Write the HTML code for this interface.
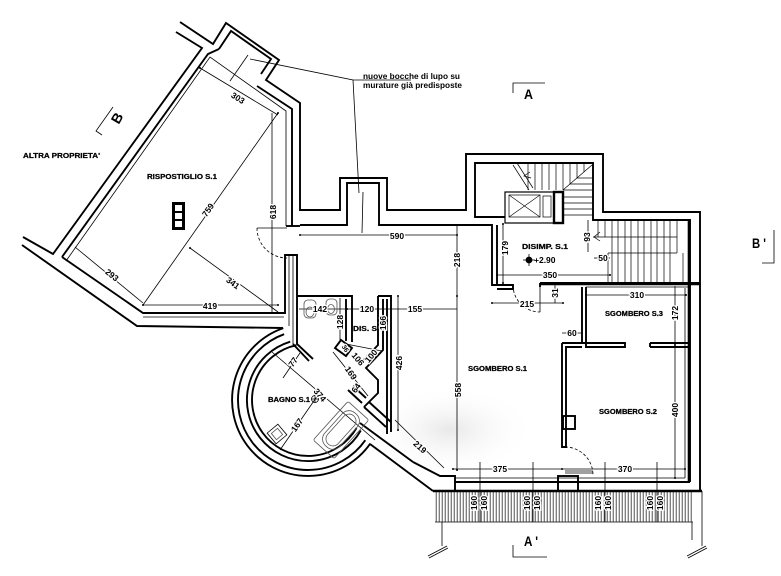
<!DOCTYPE html>
<html><head><meta charset="utf-8">
<style>
html,body{margin:0;padding:0;background:#fff;}
svg{display:block;}
text{font-family:"Liberation Sans",Arial,sans-serif;}
.d{font-size:8.5px;font-weight:bold;fill:#000;stroke:#fff;stroke-width:2.5px;paint-order:stroke;}
.n{font-size:7px;font-weight:bold;fill:#000;stroke:#000;stroke-width:0.25px;}
.big{font-size:14px;font-weight:bold;fill:#000;}
</style></head><body>
<svg xmlns="http://www.w3.org/2000/svg" width="781" height="576" viewBox="0 0 781 576">
<defs>
<pattern id="h" width="3" height="40" patternUnits="userSpaceOnUse">
<line x1="1.2" y1="0" x2="1.2" y2="40" stroke="#333" stroke-width="0.85"/>
</pattern>
<radialGradient id="wm" cx="0.5" cy="0.5" r="0.5">
<stop offset="0" stop-color="#e8e8e8"/>
<stop offset="1" stop-color="#ffffff" stop-opacity="0"/>
</radialGradient>
</defs>
<rect width="781" height="576" fill="#fff"/>
<ellipse cx="450" cy="430" rx="85" ry="45" fill="url(#wm)"/>

<!-- ===== thin helper lines (dims, leaders) ===== -->
<g fill="none" stroke="#000" stroke-width="0.8">
  <polyline points="250,59 353,80 359,193"/>
  <line x1="353" y1="80" x2="411" y2="80"/>
  <line x1="363" y1="192" x2="362" y2="233"/>
  <line x1="230" y1="81" x2="248" y2="55"/>
  <polyline points="513,93 513,83 545,83"/>
  <polyline points="762,263 774,263 774,230"/>
  <polyline points="513,545 513,557 547,557"/>
  <polyline points="102,135 96,131 113,107"/>
  <line x1="200" y1="68" x2="278" y2="115"/>
  <line x1="143" y1="305" x2="278" y2="113"/>
  <line x1="272" y1="113" x2="272" y2="313"/>
  <line x1="75" y1="247" x2="143" y2="303"/>
  <line x1="190" y1="248" x2="278" y2="312"/>
  <line x1="143" y1="305" x2="278" y2="305"/>
  <line x1="300" y1="235" x2="457" y2="235"/>
  <line x1="457" y1="224" x2="457" y2="470"/>
  <line x1="299" y1="309" x2="457" y2="309"/>
  <line x1="398" y1="296" x2="398" y2="430"/>
  <line x1="340" y1="298" x2="340" y2="340"/>
  <line x1="395" y1="420" x2="444" y2="468"/>
  <line x1="503" y1="224" x2="503" y2="283"/>
  <line x1="497" y1="275" x2="610" y2="275"/>
  <line x1="588" y1="220" x2="588" y2="252"/>
  <line x1="594" y1="258" x2="610" y2="258"/>
  <line x1="492" y1="303" x2="563" y2="303"/>
  <line x1="555" y1="285" x2="555" y2="303"/>
  <line x1="562" y1="333" x2="582" y2="333"/>
  <line x1="586" y1="295" x2="686" y2="295"/>
  <line x1="675" y1="286" x2="675" y2="478"/>
  <line x1="453" y1="469" x2="685" y2="469"/>
  <line x1="480" y1="462" x2="480" y2="522"/>
  <line x1="533" y1="462" x2="533" y2="522"/>
  <line x1="605" y1="462" x2="605" y2="522"/>
  <line x1="657" y1="462" x2="657" y2="522"/>
  <line x1="272" y1="352" x2="375" y2="440"/>
  <line x1="283" y1="378" x2="300" y2="353"/>
  <line x1="280" y1="450" x2="318" y2="395"/>
  <line x1="333" y1="352" x2="368" y2="396"/>
  <line x1="346" y1="344" x2="382" y2="351"/>
  <line x1="442" y1="522" x2="442" y2="546"/>
  <line x1="702" y1="491" x2="702" y2="546"/>
  <line x1="692" y1="522" x2="692" y2="540"/>
  <line x1="428" y1="556" x2="447" y2="546"/>
  <line x1="429" y1="558" x2="448" y2="548"/>
  <line x1="687" y1="556" x2="706" y2="546"/>
  <line x1="688" y1="558" x2="707" y2="548"/>
  <path d="M257,228 A30,30 0 0,0 287,258" stroke-dasharray="3,2"/>
  <line x1="257" y1="228" x2="287" y2="228"/>
  <path d="M513,285 A27,27 0 0,0 540,312" stroke-dasharray="3,2"/>
  <line x1="540" y1="285" x2="540" y2="312"/>
  <path d="M565,447 A28,28 0 0,1 593,475" stroke-dasharray="3,2"/>
  <line x1="565" y1="471" x2="593" y2="471"/>
  <line x1="565" y1="473" x2="593" y2="473"/>
</g>

<g fill="#000">
  <circle cx="300" cy="235" r="1"/><circle cx="457" cy="235" r="1"/>
  <circle cx="143" cy="305" r="1"/><circle cx="278" cy="305" r="1"/>
  <circle cx="278" cy="113" r="1"/><circle cx="272" cy="313" r="1"/>
  <circle cx="190" cy="248" r="1"/><circle cx="200" cy="68" r="1"/>
  <circle cx="457" cy="296" r="1"/><circle cx="457" cy="470" r="1"/>
  <circle cx="387" cy="309" r="1"/><circle cx="347" cy="309" r="1"/>
  <circle cx="503" cy="224" r="1"/><circle cx="503" cy="283" r="1"/>
  <circle cx="497" cy="275" r="1"/><circle cx="610" cy="275" r="1"/>
  <circle cx="492" cy="303" r="1"/><circle cx="563" cy="303" r="1"/>
  <circle cx="586" cy="295" r="1"/><circle cx="686" cy="295" r="1"/>
  <circle cx="675" cy="345" r="1"/><circle cx="675" cy="478" r="1"/>
  <circle cx="453" cy="469" r="1"/><circle cx="562" cy="469" r="1"/><circle cx="685" cy="469" r="1"/>
  <circle cx="398" cy="296" r="1"/><circle cx="398" cy="430" r="1"/>
</g>

<rect x="435" y="491" width="258" height="31" fill="url(#h)"/>
<line x1="435" y1="522" x2="693" y2="522" stroke="#000" stroke-width="0.8"/>

<g fill="none" stroke="#000" stroke-width="1.9" stroke-linejoin="miter">
  <polyline points="180,22 213,44 226,23 279,60 266,80 300,103 300,210 340,210 340,178 387,178 387,210 466,210 466,154 603,154 603,212 700,212 700,491"/>
  <polyline points="219,49 231,31 271,59 261,74"/>
  <polyline points="176,32 202,48 53,254 23,237"/>
  <polyline points="62,257 208,54 219,49"/>
  <polyline points="257,86 292,109 292,226"/>
  <polyline points="62,257 143,313 285,313 285,255 297,255 297,344 313,359"/>
  <polyline points="22,245 137,326 283,328"/>
  <line x1="286" y1="226" x2="300" y2="226"/>
  <line x1="293" y1="344" x2="309" y2="361"/>
  <polyline points="300,225 347,225 347,183 379,183 379,225 492,225 492,285 513,285 513,289 497,289"/>
  <line x1="497" y1="225" x2="497" y2="285"/>
  <polyline points="505,217 475,217 475,163 593,163 593,220 690,220 690,482"/>
  <polyline points="540,283 700,283"/>
  <line x1="540" y1="283" x2="540" y2="287"/>
  <polyline points="582,287 582,343 625,343 625,347 586,347 586,287"/>
  <polyline points="650,343 689,343"/>
  <polyline points="650,347 650,343"/>
  <line x1="650" y1="347" x2="689" y2="347"/>
  <polyline points="562,343 582,343"/>
  <polyline points="562,343 562,447 566,447 566,347 582,347"/>
  <rect x="563" y="416" width="12" height="13"/>
  <rect x="558" y="476" width="20" height="15"/>
  <line x1="433" y1="491" x2="702" y2="491"/>
  <line x1="455" y1="482" x2="690" y2="482"/>
  <polyline points="413,462 440,476 455,476 455,491"/>
  <line x1="370" y1="444" x2="433" y2="491"/>
  <line x1="360" y1="423" x2="413" y2="462"/>
  <polyline points="297,296 352,296 352,342"/>
  <line x1="346" y1="299" x2="346" y2="341"/>
  <polygon points="341,340 352,348 346,356 335,348"/>
  <polyline points="378,296 391,296 391,432"/>
  <line x1="387" y1="299" x2="387" y2="434"/>
  <polyline points="378,296 378,345 361,363"/>
  <polyline points="383,299 383,350 366,368 378,380 378,393 364,407"/>
  <polyline points="348,390 362,403"/>
  <line x1="353" y1="386" x2="366" y2="398"/>
  <line x1="364" y1="407" x2="386" y2="427"/>
  <line x1="369" y1="402" x2="391" y2="422"/>
  <path d="M283.3,328.1 A76,76 0 1,0 370.3,443.6"/>
  <path d="M284.1,334.2 A70,70 0 1,0 365.3,440.2"/>
  <path d="M290.2,341.7 A61,61 0 1,0 360.8,430.5"/>
  <path d="M296.4,345.2 A56,56 0 1,0 356.5,428"/>
</g>
<g fill="none" stroke="#000" stroke-width="2.6">
  <line x1="433" y1="491" x2="702" y2="491"/>
  <line x1="689" y1="220" x2="689" y2="482"/>
  <line x1="540" y1="284" x2="700" y2="284"/>
</g>
<g fill="none" stroke="#000" stroke-width="0.8">
  <polyline points="66,261 210,57 286,111 286,226"/>
  <line x1="143" y1="317" x2="284" y2="317"/>
  <line x1="289" y1="256" x2="289" y2="326"/>
  <line x1="293" y1="256" x2="293" y2="344"/>
  <line x1="685" y1="288" x2="685" y2="478"/>
  <line x1="586" y1="287" x2="688" y2="287"/>
  <line x1="455" y1="478" x2="685" y2="478"/>
</g>

<g fill="#fff" stroke="#000">
  <rect x="505" y="192" width="49" height="31" stroke-width="1.2"/>
  <rect x="509" y="195" width="31" height="22" stroke-width="0.7" fill="none"/>
  <line x1="509" y1="195" x2="540" y2="217" stroke-width="0.6"/>
  <line x1="540" y1="195" x2="509" y2="217" stroke-width="0.6"/>
  <rect x="543" y="196" width="8" height="21" stroke-width="0.7" fill="none"/>
  <rect x="554" y="192" width="9" height="31" stroke-width="2.4"/>
</g>

<g fill="none" stroke="#000" stroke-width="0.7">
  <line x1="528" y1="163" x2="528" y2="190"/><line x1="535" y1="163" x2="535" y2="190"/>
  <line x1="542" y1="163" x2="542" y2="190"/><line x1="549" y1="163" x2="549" y2="190"/>
  <line x1="556" y1="163" x2="556" y2="190"/><line x1="563" y1="163" x2="563" y2="190"/>
  <line x1="570" y1="163" x2="570" y2="184"/><line x1="577" y1="163" x2="577" y2="178"/>
  <line x1="584" y1="163" x2="584" y2="172"/>
  <line x1="563" y1="190" x2="592" y2="165"/>
  <line x1="563" y1="197" x2="593" y2="197"/><line x1="563" y1="203" x2="593" y2="203"/>
  <line x1="563" y1="209" x2="593" y2="209"/><line x1="563" y1="215" x2="593" y2="215"/>
  <line x1="570" y1="184" x2="593" y2="184"/><line x1="577" y1="178" x2="593" y2="178"/>
  <line x1="563" y1="190" x2="593" y2="190"/>
  <line x1="513" y1="165" x2="529" y2="190"/><line x1="517" y1="163" x2="533" y2="188"/>
  <polyline points="530,172 524,176 531,178"/>
  <line x1="598" y1="220" x2="598" y2="237"/><line x1="605" y1="220" x2="605" y2="237"/>
  <line x1="612" y1="220" x2="612" y2="283"/><line x1="618" y1="220" x2="618" y2="283"/>
  <line x1="625" y1="220" x2="625" y2="283"/><line x1="631" y1="220" x2="631" y2="283"/>
  <line x1="638" y1="220" x2="638" y2="283"/><line x1="644" y1="220" x2="644" y2="283"/>
  <line x1="651" y1="220" x2="651" y2="283"/><line x1="657" y1="220" x2="657" y2="283"/>
  <line x1="664" y1="220" x2="664" y2="283"/><line x1="670" y1="220" x2="670" y2="283"/>
  <line x1="677" y1="220" x2="677" y2="253"/><line x1="683" y1="253" x2="683" y2="283"/>
  <line x1="593" y1="237" x2="677" y2="237"/>
  <line x1="608" y1="253" x2="677" y2="253"/>
  <line x1="608" y1="253" x2="608" y2="283"/>
  <polyline points="600,232 594,237 600,241"/>
</g>

<g fill="none" stroke="#555" stroke-width="0.8">
  <rect x="304" y="300" width="12" height="18" rx="4"/>
  <ellipse cx="310" cy="312" rx="4" ry="5"/>
  <rect x="326" y="299" width="11" height="16" rx="4"/>
  <ellipse cx="331" cy="309" rx="3.5" ry="4.5"/>
  <g transform="translate(341,430) rotate(-48)">
    <rect x="-26" y="-14" width="52" height="28" rx="2"/>
    <rect x="-22" y="-10" width="44" height="20" rx="9"/>
    <rect x="-19" y="-7" width="38" height="14" rx="7"/>
  </g>
  <g transform="translate(277,434) rotate(-40)">
    <rect x="-7" y="-7" width="14" height="14" stroke="#000"/>
    <rect x="-4" y="-4" width="8" height="8"/>
  </g>
</g>

<g stroke="#000" stroke-width="0.8">
  <circle cx="529" cy="260" r="3" fill="#000"/>
  <line x1="523" y1="260" x2="535" y2="260"/>
  <line x1="529" y1="254" x2="529" y2="266"/>
</g>
<circle cx="315" cy="399" r="3.5" fill="none" stroke="#000" stroke-width="0.8"/>
<line x1="311" y1="399" x2="319" y2="399" stroke="#000" stroke-width="0.8"/>
<line x1="315" y1="395" x2="315" y2="403" stroke="#000" stroke-width="0.8"/>

<rect x="172" y="202" width="13" height="28" fill="#000"/>
<rect x="175" y="205" width="7" height="6" fill="#fff"/>
<rect x="175" y="213" width="7" height="6" fill="#fff"/>
<rect x="175" y="221" width="7" height="6" fill="#fff"/>

<text x="363" y="79" style="font-size:8.5px;font-weight:bold" textLength="97" lengthAdjust="spacingAndGlyphs">nuove bocche di lupo su</text>
<text x="363" y="88" style="font-size:8.5px;font-weight:bold" textLength="99" lengthAdjust="spacingAndGlyphs">murature già predisposte</text>

<text class="big" x="524" y="99" textLength="9" lengthAdjust="spacingAndGlyphs">A</text>
<text class="big" x="752" y="248" textLength="14" lengthAdjust="spacingAndGlyphs">B '</text>
<text class="big" x="524" y="546" textLength="14" lengthAdjust="spacingAndGlyphs">A '</text>
<text class="big" transform="translate(117,118) rotate(-60)" text-anchor="middle" dy="5">B</text>

<text class="n" x="23" y="158" textLength="77" lengthAdjust="spacingAndGlyphs">ALTRA PROPRIETA'</text>
<text class="n" x="147" y="179" textLength="70" lengthAdjust="spacingAndGlyphs">RISPOSTIGLIO S.1</text>
<text class="n" x="468" y="371" textLength="59" lengthAdjust="spacingAndGlyphs">SGOMBERO S.1</text>
<text class="n" x="599" y="414" textLength="58" lengthAdjust="spacingAndGlyphs">SGOMBERO S.2</text>
<text class="n" x="605" y="316" textLength="58" lengthAdjust="spacingAndGlyphs">SGOMBERO S.3</text>
<text class="n" x="522" y="249" textLength="46" lengthAdjust="spacingAndGlyphs">DISIMP. S.1</text>
<text class="n" x="268" y="402" textLength="42" lengthAdjust="spacingAndGlyphs">BAGNO S.1</text>
<text class="n" x="353" y="331" textLength="24" lengthAdjust="spacingAndGlyphs">DIS. S</text>
<text x="534" y="263" style="font-size:8.5px;font-weight:bold">+2.90</text>

<g text-anchor="middle">
  <text class="d" transform="translate(238,98) rotate(32)" dy="3">303</text>
  <text class="d" transform="translate(208,210) rotate(-55)" dy="3">759</text>
  <text class="d" transform="translate(273,212) rotate(-90)" dy="3">618</text>
  <text class="d" transform="translate(112,275) rotate(38)" dy="3">293</text>
  <text class="d" transform="translate(233,283) rotate(36)" dy="3">341</text>
  <text class="d" x="210" y="309">419</text>
  <text class="d" x="397" y="239">590</text>
  <text class="d" transform="translate(457,260) rotate(-90)" dy="3">218</text>
  <text class="d" transform="translate(458,390) rotate(-90)" dy="3">558</text>
  <text class="d" transform="translate(399,363) rotate(-90)" dy="3">426</text>
  <text class="d" x="320" y="312">142</text>
  <text class="d" x="367" y="312">120</text>
  <text class="d" x="415" y="312">155</text>
  <text class="d" transform="translate(340,322) rotate(-90)" dy="3">128</text>
  <text class="d" transform="translate(383,323) rotate(-90)" dy="3">166</text>
  <text class="d" transform="translate(420,447) rotate(42)" dy="3">219</text>
  <text class="d" transform="translate(505,248) rotate(-90)" dy="3">179</text>
  <text class="d" x="550" y="278">350</text>
  <text class="d" transform="translate(587,237) rotate(-90)" dy="3">93</text>
  <text class="d" x="603" y="261">50</text>
  <text class="d" x="527" y="307">215</text>
  <text class="d" transform="translate(555,293) rotate(-90)" dy="3">31</text>
  <text class="d" x="572" y="336">60</text>
  <text class="d" x="637" y="298">310</text>
  <text class="d" transform="translate(675,313) rotate(-90)" dy="3">172</text>
  <text class="d" transform="translate(675,410) rotate(-90)" dy="3">400</text>
  <text class="d" x="500" y="472">375</text>
  <text class="d" x="625" y="472">370</text>
  <text class="d" transform="translate(474,503) rotate(-90)" dy="3">160</text>
  <text class="d" transform="translate(484,503) rotate(-90)" dy="3">160</text>
  <text class="d" transform="translate(527,503) rotate(-90)" dy="3">160</text>
  <text class="d" transform="translate(537,503) rotate(-90)" dy="3">160</text>
  <text class="d" transform="translate(598,503) rotate(-90)" dy="3">160</text>
  <text class="d" transform="translate(608,503) rotate(-90)" dy="3">160</text>
  <text class="d" transform="translate(650,503) rotate(-90)" dy="3">160</text>
  <text class="d" transform="translate(660,503) rotate(-90)" dy="3">160</text>
  <text class="d" transform="translate(320,395) rotate(50)" dy="3">374</text>
  <text class="d" transform="translate(297,425) rotate(-55)" dy="3">167</text>
  <text class="d" transform="translate(293,362) rotate(-55)" dy="3">77</text>
  <text class="d" transform="translate(351,373) rotate(55)" dy="3">169</text>
  <text class="d" transform="translate(356,388) rotate(-55)" dy="3">64</text>
  <text class="d" transform="translate(358,359) rotate(50)" dy="3">106</text>
  <text class="d" transform="translate(371,356) rotate(-50)" dy="3">100</text>
  <text class="d" transform="translate(346,348) rotate(55)" dy="3" style="font-size:6.5px">36</text>
</g>
</svg>
</body></html>
